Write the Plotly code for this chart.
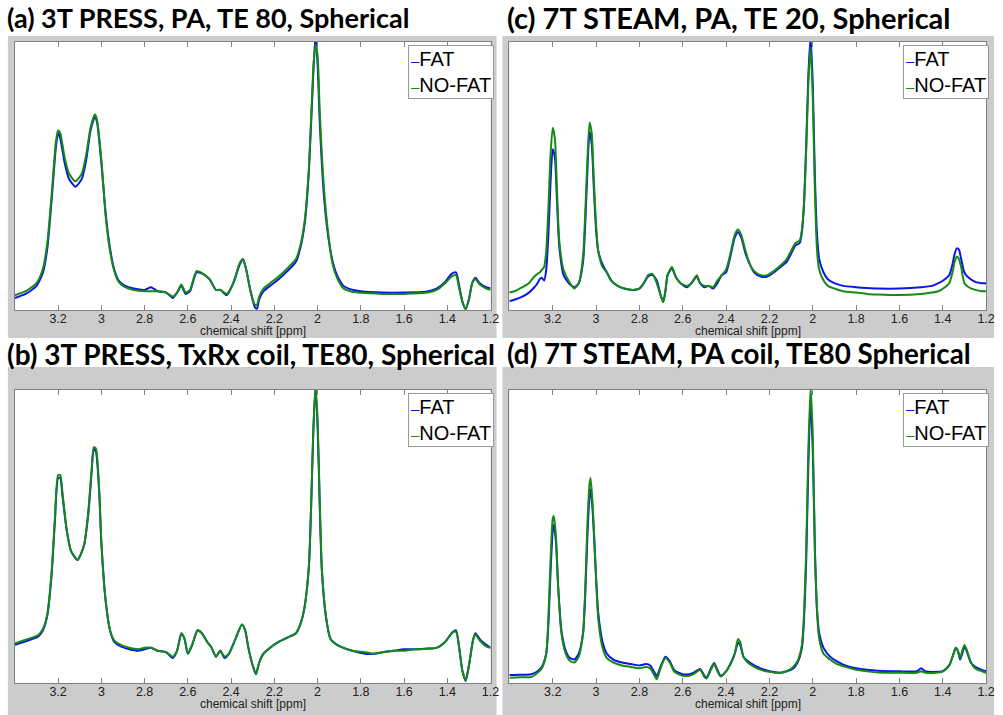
import plotly.graph_objects as go

# ---------------- data (relative intensity, 1 = top of frame) ----------------
ppm_a = [3.40, 3.35, 3.30, 3.27, 3.25, 3.23, 3.21, 3.20, 3.19, 3.17, 3.15, 3.12, 3.09, 3.07, 3.05, 3.03, 3.02, 3.00,
         2.98, 2.96, 2.94, 2.92, 2.89, 2.85, 2.80, 2.77, 2.74, 2.70, 2.67, 2.65, 2.63, 2.61, 2.59, 2.56, 2.53, 2.50,
         2.47, 2.45, 2.42, 2.39, 2.36, 2.345, 2.33, 2.31, 2.29, 2.28, 2.27, 2.25, 2.22, 2.18, 2.14, 2.10, 2.08, 2.06,
         2.04, 2.02, 2.01, 2.00, 1.99, 1.97, 1.95, 1.93, 1.91, 1.88, 1.85, 1.80, 1.70, 1.60, 1.50, 1.45, 1.41, 1.38,
         1.36, 1.345, 1.33, 1.315, 1.30, 1.285, 1.27, 1.25, 1.22, 1.20]
fat_a = [0.045, 0.06, 0.09, 0.14, 0.23, 0.41, 0.61, 0.66, 0.64, 0.55, 0.49, 0.46, 0.49, 0.56, 0.67, 0.72, 0.70, 0.55,
         0.36, 0.23, 0.15, 0.11, 0.09, 0.08, 0.075, 0.085, 0.07, 0.065, 0.045, 0.065, 0.09, 0.06, 0.07, 0.14, 0.135, 0.115,
         0.075, 0.075, 0.055, 0.10, 0.17, 0.19, 0.15, 0.07, 0.01, 0.005, 0.04, 0.07, 0.09, 0.115, 0.145, 0.18, 0.23, 0.32,
         0.52, 0.88, 1.02, 0.92, 0.70, 0.42, 0.27, 0.18, 0.13, 0.09, 0.078, 0.07, 0.065, 0.065, 0.068, 0.08, 0.105, 0.135,
         0.14, 0.09, 0.03, 0.003, 0.04, 0.10, 0.12, 0.10, 0.085, 0.08]
nofat_a = [0.055, 0.07, 0.10, 0.155, 0.25, 0.43, 0.63, 0.67, 0.66, 0.57, 0.51, 0.48, 0.51, 0.58, 0.68, 0.73, 0.71, 0.56,
           0.35, 0.22, 0.145, 0.105, 0.085, 0.075, 0.07, 0.07, 0.07, 0.065, 0.05, 0.065, 0.095, 0.065, 0.075, 0.145, 0.135, 0.115,
           0.075, 0.075, 0.06, 0.10, 0.175, 0.19, 0.15, 0.07, 0.02, 0.02, 0.05, 0.08, 0.10, 0.125, 0.155, 0.19, 0.24, 0.33,
           0.53, 0.90, 0.99, 0.95, 0.74, 0.45, 0.28, 0.17, 0.12, 0.08, 0.07, 0.064, 0.06, 0.06, 0.064, 0.075, 0.10, 0.125,
           0.13, 0.08, 0.03, 0.005, 0.04, 0.10, 0.115, 0.095, 0.08, 0.075]

ppm_b = [3.40, 3.36, 3.32, 3.29, 3.27, 3.25, 3.23, 3.215, 3.20, 3.19, 3.18, 3.16, 3.14, 3.11, 3.08, 3.06, 3.045, 3.035,
         3.025, 3.01, 3.00, 2.98, 2.96, 2.94, 2.91, 2.87, 2.83, 2.80, 2.77, 2.74, 2.70, 2.67, 2.65, 2.63, 2.615, 2.60,
         2.58, 2.555, 2.535, 2.51, 2.49, 2.47, 2.45, 2.43, 2.41, 2.38, 2.35, 2.335, 2.32, 2.30, 2.285, 2.27, 2.25, 2.22,
         2.18, 2.14, 2.10, 2.08, 2.06, 2.04, 2.03, 2.02, 2.01, 2.00, 1.99, 1.98, 1.96, 1.94, 1.91, 1.88, 1.84, 1.78,
         1.74, 1.70, 1.65, 1.60, 1.55, 1.50, 1.45, 1.41, 1.38, 1.36, 1.345, 1.33, 1.315, 1.30, 1.28, 1.27, 1.25, 1.22,
         1.20]
fat_b = [0.13, 0.14, 0.15, 0.16, 0.18, 0.23, 0.37, 0.55, 0.70, 0.70, 0.64, 0.52, 0.45, 0.42, 0.47, 0.58, 0.72, 0.80,
         0.79, 0.65, 0.48, 0.28, 0.18, 0.14, 0.125, 0.115, 0.11, 0.115, 0.12, 0.11, 0.105, 0.085, 0.11, 0.17, 0.15, 0.10,
         0.13, 0.18, 0.17, 0.14, 0.12, 0.09, 0.11, 0.085, 0.10, 0.15, 0.20, 0.18, 0.12, 0.06, 0.03, 0.07, 0.10, 0.12,
         0.14, 0.155, 0.17, 0.20, 0.26, 0.40, 0.60, 0.85, 1.01, 0.88, 0.60, 0.38, 0.22, 0.15, 0.13, 0.12, 0.11, 0.10,
         0.10, 0.105, 0.11, 0.115, 0.115, 0.117, 0.12, 0.14, 0.17, 0.18, 0.12, 0.04, 0.007, 0.06, 0.15, 0.17, 0.15, 0.13,
         0.12]
nofat_b = [0.135, 0.145, 0.155, 0.165, 0.185, 0.235, 0.38, 0.56, 0.71, 0.71, 0.65, 0.52, 0.45, 0.42, 0.47, 0.59, 0.73, 0.805,
           0.80, 0.66, 0.48, 0.28, 0.18, 0.145, 0.13, 0.12, 0.115, 0.12, 0.12, 0.11, 0.105, 0.09, 0.11, 0.17, 0.15, 0.10,
           0.13, 0.18, 0.17, 0.14, 0.12, 0.09, 0.11, 0.09, 0.10, 0.15, 0.20, 0.18, 0.12, 0.06, 0.03, 0.07, 0.10, 0.12,
           0.14, 0.155, 0.17, 0.20, 0.26, 0.40, 0.60, 0.86, 1.01, 0.90, 0.62, 0.39, 0.22, 0.15, 0.13, 0.12, 0.11, 0.105,
           0.10, 0.105, 0.11, 0.11, 0.115, 0.117, 0.12, 0.14, 0.17, 0.175, 0.12, 0.04, 0.01, 0.06, 0.15, 0.165, 0.145, 0.125,
           0.12]

ppm_c = [3.40, 3.37, 3.34, 3.31, 3.29, 3.27, 3.26, 3.25, 3.24, 3.23, 3.22, 3.21, 3.20, 3.19, 3.18, 3.17, 3.15, 3.12,
         3.10, 3.08, 3.06, 3.05, 3.04, 3.03, 3.02, 3.01, 3.00, 2.99, 2.97, 2.95, 2.93, 2.90, 2.87, 2.83, 2.80, 2.78,
         2.76, 2.74, 2.72, 2.70, 2.69, 2.68, 2.67, 2.65, 2.63, 2.61, 2.58, 2.56, 2.535, 2.52, 2.50, 2.48, 2.46, 2.44,
         2.42, 2.40, 2.38, 2.36, 2.345, 2.33, 2.31, 2.29, 2.27, 2.24, 2.21, 2.18, 2.15, 2.12, 2.10, 2.08, 2.06, 2.05,
         2.04, 2.03, 2.02, 2.01, 2.00, 1.99, 1.98, 1.97, 1.95, 1.93, 1.90, 1.86, 1.80, 1.75, 1.70, 1.60, 1.50, 1.45,
         1.42, 1.39, 1.37, 1.355, 1.345, 1.335, 1.325, 1.315, 1.30, 1.28, 1.25, 1.22, 1.20]
fat_c = [0.033, 0.04, 0.05, 0.065, 0.08, 0.10, 0.115, 0.12, 0.11, 0.15, 0.28, 0.48, 0.60, 0.57, 0.40, 0.24, 0.13, 0.095,
         0.085, 0.10, 0.18, 0.32, 0.52, 0.665, 0.62, 0.45, 0.30, 0.22, 0.17, 0.14, 0.11, 0.09, 0.08, 0.075, 0.08, 0.10,
         0.125, 0.13, 0.11, 0.05, 0.03, 0.07, 0.13, 0.155, 0.12, 0.10, 0.085, 0.10, 0.125, 0.10, 0.085, 0.09, 0.08, 0.10,
         0.13, 0.14, 0.20, 0.27, 0.29, 0.27, 0.21, 0.17, 0.14, 0.125, 0.125, 0.14, 0.16, 0.18, 0.21, 0.24, 0.25, 0.29,
         0.40, 0.62, 0.88, 1.02, 0.85, 0.50, 0.28, 0.19, 0.14, 0.115, 0.10, 0.09, 0.085, 0.082, 0.08, 0.08, 0.085, 0.09,
         0.10, 0.115, 0.13, 0.17, 0.21, 0.23, 0.225, 0.19, 0.14, 0.12, 0.105, 0.10, 0.10]
nofat_c = [0.065, 0.072, 0.085, 0.10, 0.12, 0.135, 0.14, 0.15, 0.16, 0.22, 0.38, 0.58, 0.68, 0.64, 0.44, 0.26, 0.15, 0.10,
           0.08, 0.10, 0.20, 0.36, 0.56, 0.70, 0.66, 0.48, 0.32, 0.22, 0.16, 0.14, 0.11, 0.09, 0.08, 0.075, 0.08, 0.10,
           0.13, 0.135, 0.10, 0.05, 0.03, 0.07, 0.13, 0.16, 0.12, 0.10, 0.09, 0.10, 0.13, 0.10, 0.09, 0.09, 0.085, 0.11,
           0.13, 0.15, 0.21, 0.28, 0.30, 0.28, 0.22, 0.17, 0.145, 0.13, 0.13, 0.145, 0.165, 0.19, 0.22, 0.25, 0.26, 0.30,
           0.40, 0.60, 0.85, 0.98, 0.80, 0.44, 0.22, 0.15, 0.11, 0.09, 0.08, 0.07, 0.065, 0.06, 0.058, 0.056, 0.06, 0.065,
           0.07, 0.085, 0.10, 0.14, 0.18, 0.20, 0.19, 0.16, 0.10, 0.085, 0.075, 0.07, 0.07]

ppm_d = [3.40, 3.35, 3.30, 3.27, 3.25, 3.23, 3.22, 3.21, 3.20, 3.195, 3.185, 3.175, 3.16, 3.14, 3.12, 3.10, 3.08, 3.06,
         3.05, 3.04, 3.03, 3.025, 3.015, 3.00, 2.99, 2.97, 2.95, 2.92, 2.88, 2.84, 2.80, 2.77, 2.75, 2.73, 2.72, 2.70,
         2.68, 2.66, 2.64, 2.62, 2.60, 2.57, 2.55, 2.52, 2.50, 2.49, 2.47, 2.455, 2.44, 2.425, 2.40, 2.38, 2.36, 2.345,
         2.335, 2.32, 2.30, 2.27, 2.24, 2.20, 2.15, 2.12, 2.09, 2.07, 2.05, 2.04, 2.03, 2.02, 2.01, 2.00, 1.99, 1.98,
         1.97, 1.95, 1.92, 1.89, 1.85, 1.80, 1.75, 1.70, 1.60, 1.52, 1.50, 1.48, 1.43, 1.40, 1.37, 1.35, 1.34, 1.33,
         1.32, 1.31, 1.30, 1.29, 1.27, 1.25, 1.22, 1.20]
fat_d = [0.027, 0.028, 0.03, 0.04, 0.055, 0.10, 0.20, 0.38, 0.52, 0.54, 0.48, 0.33, 0.18, 0.11, 0.085, 0.08, 0.10, 0.17,
         0.30, 0.50, 0.64, 0.66, 0.58, 0.36, 0.24, 0.14, 0.10, 0.08, 0.07, 0.065, 0.06, 0.065, 0.06, 0.035, 0.024, 0.06,
         0.09, 0.075, 0.045, 0.035, 0.03, 0.03, 0.035, 0.048, 0.025, 0.018, 0.05, 0.068, 0.045, 0.025, 0.04, 0.065, 0.10, 0.137,
         0.13, 0.09, 0.075, 0.06, 0.05, 0.04, 0.035, 0.04, 0.05, 0.07, 0.12, 0.22, 0.42, 0.75, 0.96, 0.80, 0.45, 0.25,
         0.17, 0.12, 0.09, 0.075, 0.06, 0.05, 0.045, 0.042, 0.04, 0.04, 0.05, 0.04, 0.038, 0.04, 0.06, 0.10, 0.12, 0.11,
         0.08, 0.10, 0.125, 0.11, 0.07, 0.055, 0.045, 0.04]
nofat_d = [0.018, 0.02, 0.02, 0.035, 0.05, 0.10, 0.22, 0.42, 0.56, 0.57, 0.50, 0.33, 0.17, 0.10, 0.075, 0.07, 0.09, 0.17,
           0.32, 0.54, 0.68, 0.70, 0.60, 0.36, 0.22, 0.12, 0.085, 0.07, 0.06, 0.055, 0.05, 0.055, 0.05, 0.025, 0.013, 0.055,
           0.085, 0.07, 0.04, 0.03, 0.025, 0.025, 0.03, 0.045, 0.02, 0.015, 0.045, 0.065, 0.04, 0.022, 0.04, 0.065, 0.10, 0.15,
           0.14, 0.09, 0.07, 0.055, 0.045, 0.038, 0.035, 0.04, 0.055, 0.075, 0.13, 0.24, 0.46, 0.80, 1.01, 0.85, 0.46, 0.24,
           0.15, 0.10, 0.08, 0.065, 0.055, 0.045, 0.04, 0.036, 0.035, 0.035, 0.04, 0.035, 0.035, 0.04, 0.06, 0.10, 0.12, 0.11,
           0.085, 0.11, 0.13, 0.115, 0.07, 0.05, 0.04, 0.035]

titles = ["(a) 3T PRESS, PA, TE 80, Spherical",
          "(b) 3T PRESS, TxRx coil, TE80, Spherical",
          "(c) 7T STEAM, PA, TE 20, Spherical",
          "(d) 7T STEAM, PA coil, TE80 Spherical"]
series_names = ["FAT", "NO-FAT"]
tick_vals = [3.2, 3.0, 2.8, 2.6, 2.4, 2.2, 2.0, 1.8, 1.6, 1.4, 1.2]
tick_text = ["3.2", "3", "2.8", "2.6", "2.4", "2.2", "2", "1.8", "1.6", "1.4", "1.2"]
x_label = "chemical shift [ppm]"

panels = [(ppm_a, fat_a, nofat_a), (ppm_b, fat_b, nofat_b), (ppm_c, fat_c, nofat_c), (ppm_d, fat_d, nofat_d)]

# ---------------- layout geometry (pixels) ----------------
W, H = 1003, 715
BLUE, GREEN = "#0a14e6", "#148a14"
GRAY = "#cccccc"
TXT = "#222222"
# plot frames: (x0, x1, ytop, ybottom), gray boxes, titles (x, y-center, font size)
frames = [(15, 495, 42, 310), (15, 495, 390, 683), (514, 995, 42, 310), (514, 995, 390, 683)]
boxes = [(8, 501, 36, 338), (8, 501, 367, 715), (507, 1003, 36, 338), (507, 1003, 367, 715)]
title_pos = [(6, 18, 27), (6, 353.5, 28), (511, 18, 29), (511, 353.5, 27.8)]


def px(x):
    return x / W


def py(y):
    return 1 - y / H


fig = go.Figure()
shapes = []
annotations = []
layout_axes = {}

for i, ((ppm, fat, nofat), (x0, x1, yt, yb)) in enumerate(zip(panels, frames)):
    n = "" if i == 0 else str(i + 1)
    fig.add_trace(go.Scatter(x=ppm, y=fat, name=series_names[0], mode="lines",
                             line=dict(color=BLUE, width=2, shape="spline", smoothing=0.6),
                             xaxis="x" + n, yaxis="y" + n, showlegend=False))
    fig.add_trace(go.Scatter(x=ppm, y=nofat, name=series_names[1], mode="lines",
                             line=dict(color=GREEN, width=2, shape="spline", smoothing=0.6),
                             xaxis="x" + n, yaxis="y" + n, showlegend=False))
    layout_axes["xaxis" + n] = dict(
        domain=[px(x0), px(x1)], anchor="y" + n, range=[3.4, 1.2],
        tickvals=tick_vals, ticktext=tick_text, ticks="inside", ticklen=5, tickwidth=1,
        tickcolor="#808080", showline=True, linecolor="#808080", linewidth=1, mirror="ticks",
        showgrid=False, zeroline=False, ticklabelstandoff=-3,
        tickfont=dict(family="Liberation Sans, Arial", size=12.5, color=TXT),
    )
    layout_axes["yaxis" + n] = dict(
        domain=[py(yb), py(yt)], anchor="x" + n, range=[0, 1],
        showticklabels=False, ticks="", showgrid=False, zeroline=False,
        showline=True, linecolor="#808080", linewidth=1, mirror=True,
    )
    # x-axis label, tight under the tick labels as in the original figure
    annotations.append(dict(xref="paper", yref="paper", x=px((x0 + x1) / 2), y=py(yb + 21),
                            xanchor="center", yanchor="middle", text=x_label, showarrow=False, borderpad=0,
                            font=dict(family="Liberation Sans, Arial", size=12, color=TXT)))
    # legend box drawn as text (short coloured line before each name)
    annotations.append(dict(
        xref="paper", yref="paper", x=px(x1 + 3), y=py(yt + 3), xanchor="right", yanchor="top",
        text=("<span style='color:%s;font-size:15px'>–</span>%s<br>"
              "<span style='color:%s;font-size:15px'>–</span>%s"
              % (BLUE, series_names[0], GREEN, series_names[1])),
        align="left", showarrow=False, bgcolor="white", bordercolor="#9a9a9a", borderwidth=1, borderpad=2,
        font=dict(family="Liberation Sans, Arial", size=20, color="black"),
    ))

for (bx0, bx1, by0, by1), (x0, x1, yt, yb) in zip(boxes, frames):
    shapes.append(dict(type="rect", xref="paper", yref="paper", x0=px(bx0), x1=px(bx1), y0=py(by1), y1=py(by0),
                       fillcolor=GRAY, line=dict(width=0), layer="below"))
    shapes.append(dict(type="rect", xref="paper", yref="paper", x0=px(x0), x1=px(x1), y0=py(yb), y1=py(yt),
                       fillcolor="white", line=dict(width=0), layer="below"))

for t, (tx, ty, fs) in zip(titles, title_pos):
    annotations.append(dict(xref="paper", yref="paper", x=px(tx), y=py(ty), xanchor="left", yanchor="middle",
                            text="<b>%s</b>" % t, showarrow=False, borderpad=0,
                            font=dict(family="Lato, Open Sans, sans-serif", size=fs, color="black")))

fig.update_layout(width=W, height=H, margin=dict(l=0, r=0, t=0, b=0), paper_bgcolor="white",
                  plot_bgcolor="white", showlegend=False, shapes=shapes, annotations=annotations, **layout_axes)

# the page's default 8px body margin would shift the whole figure; remove it
fig.write_html("out.html", config={"displayModeBar": False},
               post_script="document.body.style.margin='0px';document.body.style.overflow='hidden';")
